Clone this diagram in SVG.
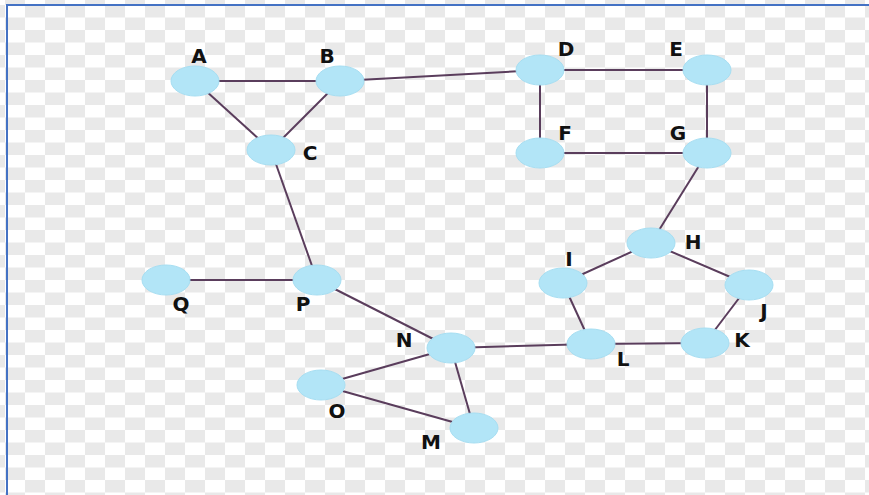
<svg xmlns="http://www.w3.org/2000/svg" width="869" height="495" viewBox="0 0 869 495">
  <defs>
    <pattern id="checker" x="5" y="5" width="40" height="25" patternUnits="userSpaceOnUse">
      <rect width="40" height="25" fill="#ffffff"/>
      <rect x="20" y="0" width="20" height="12.5" fill="#e9e9e9"/>
      <rect x="0" y="12.5" width="20" height="12.5" fill="#e9e9e9"/>
    </pattern>
    <style>
      .edge { stroke: #5a3d5c; stroke-width: 2; fill: none; }
      .node ellipse { fill: #b2e5f7; stroke: #a6def2; stroke-width: 1; }
      .node text { font-family: "DejaVu Sans", "Liberation Sans", sans-serif; font-weight: bold; font-size: 20px; fill: #111; text-anchor: middle; }
    </style>
  </defs>

  <!-- background -->
  <rect width="869" height="495" fill="url(#checker)"/>
  <path d="M7 495 V5 H869" fill="none" stroke="#4472c4" stroke-width="2"/>

  <!-- connectors -->
  <g id="edges" class="edge">
    <line x1="195" y1="81" x2="340" y2="81"/>
    <line x1="195" y1="81" x2="271" y2="150"/>
    <line x1="340" y1="81" x2="271" y2="150"/>
    <line x1="340" y1="81" x2="540" y2="70"/>
    <line x1="540" y1="70" x2="707" y2="70"/>
    <line x1="540" y1="70" x2="540" y2="153"/>
    <line x1="707" y1="70" x2="707" y2="153"/>
    <line x1="540" y1="153" x2="707" y2="153"/>
    <line x1="707" y1="153" x2="651" y2="243"/>
    <line x1="651" y1="243" x2="563" y2="283"/>
    <line x1="651" y1="243" x2="749" y2="285"/>
    <line x1="563" y1="283" x2="591" y2="344"/>
    <line x1="749" y1="285" x2="705" y2="343"/>
    <line x1="591" y1="344" x2="705" y2="343"/>
    <line x1="451" y1="348" x2="591" y2="344"/>
    <line x1="451" y1="348" x2="317" y2="280"/>
    <line x1="317" y1="280" x2="271" y2="150"/>
    <line x1="317" y1="280" x2="166" y2="280"/>
    <line x1="451" y1="348" x2="321" y2="385"/>
    <line x1="451" y1="348" x2="474" y2="428"/>
    <line x1="321" y1="385" x2="474" y2="428"/>
  </g>

  <!-- nodes -->
  <g id="node-A" class="node"><ellipse cx="195" cy="81" rx="24" ry="15"/><text x="199" y="63">A</text></g>
  <g id="node-B" class="node"><ellipse cx="340" cy="81" rx="24" ry="15"/><text x="327" y="63">B</text></g>
  <g id="node-C" class="node"><ellipse cx="271" cy="150" rx="24" ry="15"/><text x="310" y="160">C</text></g>
  <g id="node-D" class="node"><ellipse cx="540" cy="70" rx="24" ry="15"/><text x="566" y="56">D</text></g>
  <g id="node-E" class="node"><ellipse cx="707" cy="70" rx="24" ry="15"/><text x="676" y="56">E</text></g>
  <g id="node-F" class="node"><ellipse cx="540" cy="153" rx="24" ry="15"/><text x="565" y="140">F</text></g>
  <g id="node-G" class="node"><ellipse cx="707" cy="153" rx="24" ry="15"/><text x="678" y="140">G</text></g>
  <g id="node-H" class="node"><ellipse cx="651" cy="243" rx="24" ry="15"/><text x="693" y="249">H</text></g>
  <g id="node-I" class="node"><ellipse cx="563" cy="283" rx="24" ry="15"/><text x="569" y="266">I</text></g>
  <g id="node-J" class="node"><ellipse cx="749" cy="285" rx="24" ry="15"/><text x="764" y="318">J</text></g>
  <g id="node-K" class="node"><ellipse cx="705" cy="343" rx="24" ry="15"/><text x="742" y="347">K</text></g>
  <g id="node-L" class="node"><ellipse cx="591" cy="344" rx="24" ry="15"/><text x="623" y="366">L</text></g>
  <g id="node-M" class="node"><ellipse cx="474" cy="428" rx="24" ry="15"/><text x="431" y="449">M</text></g>
  <g id="node-N" class="node"><ellipse cx="451" cy="348" rx="24" ry="15"/><text x="404" y="347">N</text></g>
  <g id="node-O" class="node"><ellipse cx="321" cy="385" rx="24" ry="15"/><text x="337" y="418">O</text></g>
  <g id="node-P" class="node"><ellipse cx="317" cy="280" rx="24" ry="15"/><text x="303" y="311">P</text></g>
  <g id="node-Q" class="node"><ellipse cx="166" cy="280" rx="24" ry="15"/><text x="181" y="311">Q</text></g>
</svg>
